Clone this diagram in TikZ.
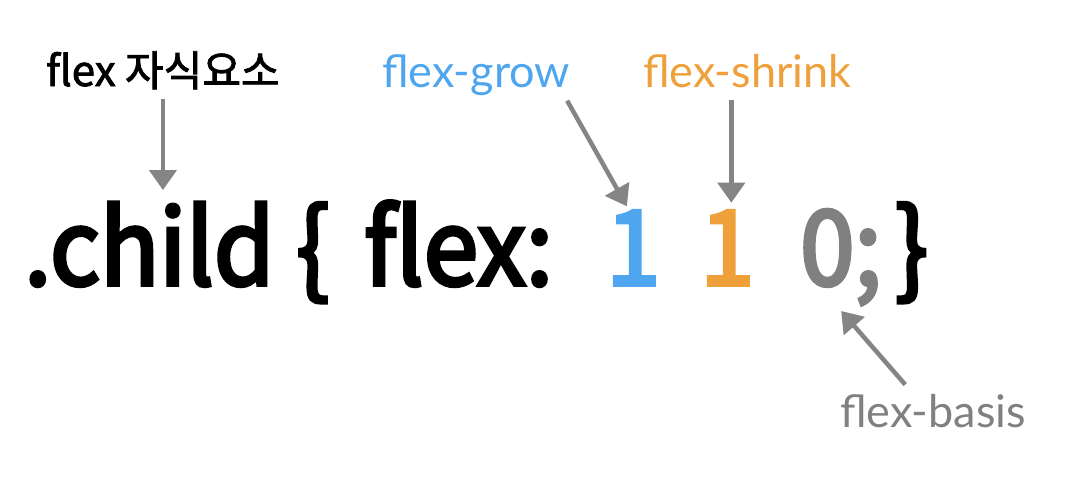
\documentclass[tikz,border=0pt]{standalone}
\usepackage{fontspec}
\setmainfont{Noto Sans CJK KR}
\newfontfamily\codefont{Noto Sans CJK KR}[FakeStretch=0.94, FakeBold=3.6]
\newfontfamily\hangulfont{Noto Sans CJK KR}[FakeBold=2]
\newfontfamily\labelfont{Lato}
\usetikzlibrary{arrows.meta,positioning}

\definecolor{growblue}{HTML}{4FA6EE}
\definecolor{shrinkorange}{HTML}{EEA03A}
\definecolor{basisgray}{HTML}{808080}
\definecolor{arrowgray}{HTML}{858585}

\tikzset{
  code/.style={anchor=base west, inner sep=0pt, font=\codefont\fontsize{104}{104}\selectfont},
  tag/.style={anchor=base west, inner sep=0pt, font=\labelfont\fontsize{45}{45}\selectfont},
  pointer/.style={draw=arrowgray, line width=4.5pt, -{Triangle[width=27pt,length=20pt]}}
}

\begin{document}
\begin{tikzpicture}[x=1pt,y=-1pt]
  \useasboundingbox (0,0) rectangle (1068,482);

  % the css rule
  \node[code] (child) at (24,285) {.child};
  \node[code] (open) at (296,285) {\{};
  \node[code] (flex) at (364,285) {flex:};
  \node[code, text=growblue] (grow) at (606,285) {1};
  \node[code, text=shrinkorange] (shrink) at (700,285) {1};
  \node[code, text=basisgray] (basis) at (800,285) {0;};
  \node[code] (close) at (895,285) {\}};

  % labels
  \node[tag, font=\hangulfont\fontsize{42}{42}\selectfont] (lchild) at (46,86) {flex 자식요소};
  \node[tag, text=growblue] (lgrow) at (382,87) {flex-grow};
  \node[tag, text=shrinkorange] (lshrink) at (643,87) {flex-shrink};
  \node[tag, text=basisgray] (lbasis) at (840,427) {flex-basis};

  % arrows
  \draw[pointer, shorten <=10pt, shorten >=12pt] (lchild.south) -- (lchild.south |- child.north);
  \draw[pointer, shorten <=6pt, shorten >=5pt] ([xshift=-6pt]lgrow.south east) -- ([xshift=-4pt]grow.north);
  \draw[pointer, shorten <=12pt, shorten >=8pt] ([xshift=4pt]shrink.north |- lshrink.south) -- ([xshift=4pt]shrink.north);
  \draw[pointer, shorten <=12pt, shorten >=8pt] ([xshift=-20pt]lbasis.north) -- ([xshift=-5pt]basis.south);
\end{tikzpicture}
\end{document}
